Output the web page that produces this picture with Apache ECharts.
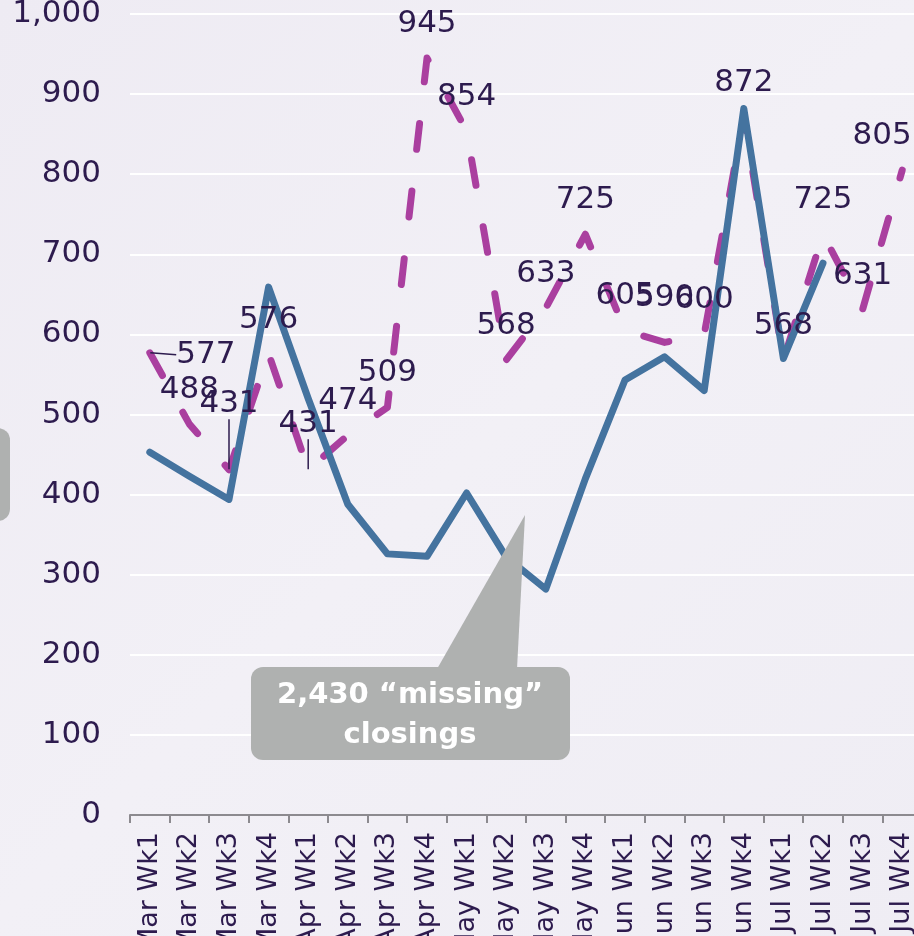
<!DOCTYPE html>
<html>
<head>
<meta charset="utf-8">
<script src="https://cdn.jsdelivr.net/npm/echarts@6/dist/echarts.min.js"></script>
<style>
  html, body { margin: 0; padding: 0; }
  #chart { width: 914px; height: 936px; }
</style>
</head>
<body>
<div id="chart"></div>
<script>
// weekly closings
var weeks = ['Mar Wk1', 'Mar Wk2', 'Mar Wk3', 'Mar Wk4',
             'Apr Wk1', 'Apr Wk2', 'Apr Wk3', 'Apr Wk4',
             'May Wk1', 'May Wk2', 'May Wk3', 'May Wk4',
             'Jun Wk1', 'Jun Wk2', 'Jun Wk3', 'Jun Wk4',
             'Jul Wk1', 'Jul Wk2', 'Jul Wk3', 'Jul Wk4'];
var expected = [577, 488, 431, 576, 431, 474, 509, 945, 854, 568,
                633, 725, 605, 590, 600, 872, 568, 725, 631, 805];
var actual = [453, 423, 394, 659, 520, 388, 326, 323, 402, 322,
              282, 420, 543, 572, 530, 882, 570, 689, null, null];
var calloutText = '2,430 \u201cmissing\u201d\nclosings';

var textColor = '#2d1b4e';
var fontFamily = '"DejaVu Sans", sans-serif';

// labels nudged away from the line (index -> [dx, dy]), some with a leader line
var labelMoves = { 0: [56, 36], 2: [0, -32], 4: [0, -12], 13: [0, -10], 19: [-20, 0] };
var withLeader = [0, 2, 4];

var chart = echarts.init(document.getElementById('chart'));

chart.setOption({
  animation: false,
  backgroundColor: new echarts.graphic.LinearGradient(0, 0, 1, 1, [
    { offset: 0, color: '#eeebf3' },
    { offset: 0.5, color: '#f2f0f6' },
    { offset: 1, color: '#efedf4' }
  ]),
  grid: { left: 130, right: -8, top: 14, bottom: 121, containLabel: false, outerBoundsMode: 'none' },
  xAxis: {
    type: 'category',
    data: weeks,
    boundaryGap: true,
    axisLine: { lineStyle: { color: '#8c8a8f', width: 2 } },
    axisTick: { show: true, length: 8, lineStyle: { color: '#8c8a8f', width: 2 } },
    axisLabel: {
      rotate: 90, margin: 17, color: textColor,
      fontFamily: fontFamily, fontSize: 27
    },
    splitLine: { show: false }
  },
  yAxis: {
    type: 'value',
    min: 0, max: 1000, interval: 100,
    axisLine: { show: false },
    axisTick: { show: false },
    axisLabel: {
      margin: 29, color: textColor, fontFamily: fontFamily, fontSize: 31,
      formatter: function (v) { return v.toLocaleString('en-US'); }
    },
    splitLine: { lineStyle: { color: '#ffffff', width: 2 } }
  },
  series: [
    {
      name: 'Expected',
      type: 'line',
      z: 2,
      data: expected,
      symbol: 'none',
      lineStyle: { color: '#aa3f9f', width: 7, type: [26, 42], cap: 'round', join: 'round' }
    },
    {
      name: 'Actual',
      type: 'line',
      z: 3,
      data: actual,
      symbol: 'none',
      connectNulls: false,
      lineStyle: { color: '#44739f', width: 7, cap: 'round', join: 'round' }
    },
    {
      // value labels of the expected line, kept above both lines
      name: 'Expected labels',
      type: 'line',
      z: 4,
      data: expected.map(function (v, i) {
        return withLeader.indexOf(i) >= 0 ? { value: v, labelLine: { show: true } } : v;
      }),
      symbol: 'circle',
      symbolSize: 1,
      itemStyle: { color: 'rgba(0,0,0,0)' },
      lineStyle: { opacity: 0 },
      label: {
        show: true, position: 'top', distance: 18,
        color: textColor, fontFamily: fontFamily, fontSize: 31
      },
      labelLine: { show: false, lineStyle: { color: textColor, width: 1.5 } },
      labelLayout: function (p) {
        var m = labelMoves[p.dataIndex];
        return m ? { dx: m[0], dy: m[1] } : {};
      }
    }
  ],
  graphic: [
    {
      type: 'rect', z: 100,
      shape: { x: -40, y: 428, width: 50, height: 93, r: 12 },
      style: { fill: '#afb1b0' }
    },
    {
      type: 'polygon', z: 100,
      shape: { points: [[437, 669], [517, 669], [525, 515]] },
      style: { fill: '#afb1b0' }
    },
    {
      type: 'rect', z: 100,
      shape: { x: 251, y: 667, width: 319, height: 93, r: 12 },
      style: { fill: '#afb1b0' }
    },
    {
      type: 'text', z: 101,
      x: 410, y: 715,
      style: {
        text: calloutText, fill: '#ffffff',
        font: 'bold 29px "DejaVu Sans", sans-serif',
        align: 'center', verticalAlign: 'middle', lineHeight: 40
      }
    }
  ]
});
</script>
</body>
</html>
